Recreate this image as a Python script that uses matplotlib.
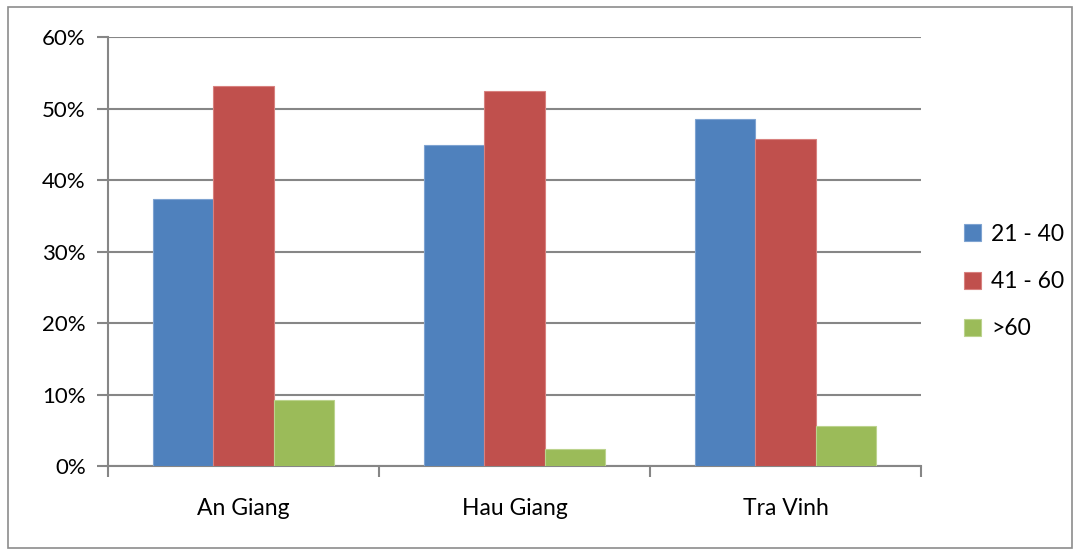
import matplotlib

matplotlib.use("Agg")

import matplotlib.pyplot as plt
import numpy as np
from matplotlib.patches import Rectangle
from matplotlib.ticker import PercentFormatter

provinces = ["An Giang", "Hau Giang", "Tra Vinh"]
age_groups = ["21 - 40", "41 - 60", ">60"]
share_21_40 = [37.4, 44.9, 48.5]
share_41_60 = [53.1, 52.4, 45.7]
share_over_60 = [9.2, 2.4, 5.6]
colors = ["#4F81BD", "#C0504D", "#9BBB59"]
edge_colors = ["#7EA3D1", "#D8817F", "#BCD38E"]

plt.rcParams["font.family"] = ["Lato", "DejaVu Sans"]

fig = plt.figure(figsize=(10.79, 5.5), dpi=100)
ax = fig.add_axes([0.1001, 0.1527, 0.7535, 0.78])

# outer chart frame like the spreadsheet export
fig.patches.append(Rectangle((0.0075, 0.004), 0.986, 0.984, transform=fig.transFigure,
                             fill=False, edgecolor="#8C8C8C", linewidth=1.2))

x = np.arange(len(provinces))
width = 0.223
for i, (series, label) in enumerate(zip([share_21_40, share_41_60, share_over_60], age_groups)):
    ax.bar(x + (i - 1) * width, series, width, color=colors[i], edgecolor=edge_colors[i],
           linewidth=0.8, label=label, zorder=3)

ax.set_xlim(-0.5, len(provinces) - 0.5)
ax.set_ylim(0, 60)
ax.set_yticks(np.arange(0, 61, 10))
ax.yaxis.set_major_formatter(PercentFormatter(decimals=0))
ax.set_xticks(x, labels=provinces)
ax.set_xticks(np.arange(-0.5, len(provinces)), minor=True)
ax.tick_params(axis="x", which="major", length=0, pad=23, labelsize=16.5)
ax.tick_params(axis="x", which="minor", length=8, width=1.5, color="#868686")
ax.tick_params(axis="y", length=8, width=1.5, color="#868686", pad=8, labelsize=16)

ax.grid(axis="y", color="#868686", linewidth=1.5, zorder=0)
for side in ["top", "right"]:
    ax.spines[side].set_visible(False)
for side in ["left", "bottom"]:
    ax.spines[side].set_color("#868686")
    ax.spines[side].set_linewidth(1.5)

ax.legend(loc="center left", bbox_to_anchor=(0.874, 0.488), bbox_transform=fig.transFigure,
          frameon=False, fontsize=16.5, handlelength=0.75, handleheight=0.75,
          handletextpad=0.45, labelspacing=1.15)

fig.savefig("out.png", dpi=100)
